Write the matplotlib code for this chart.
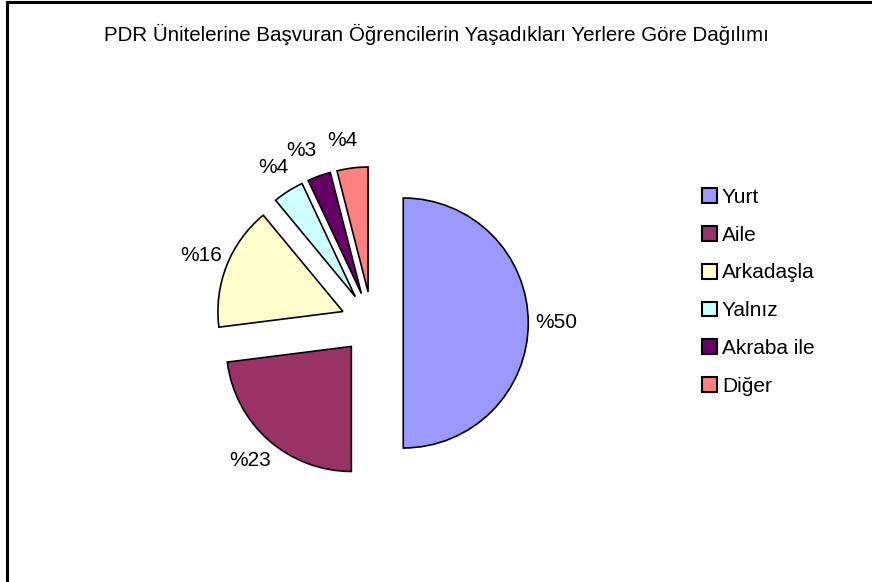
import matplotlib.pyplot as plt
from matplotlib.patches import Patch
from matplotlib.lines import Line2D

plt.rcParams['font.family'] = ['Liberation Sans', 'DejaVu Sans']

labels = ["Yurt", "Aile", "Arkadaşla", "Yalnız", "Akraba ile", "Diğer"]
values = [50, 23, 16, 4, 3, 4]
colors = ["#9999FF", "#993366", "#FFFFCC", "#CCFFFF", "#660066", "#FF8080"]
title = "PDR Ünitelerine Başvuran Öğrencilerin Yaşadıkları Yerlere Göre Dağılımı"

W, H = 872, 582
fig = plt.figure(figsize=(W / 100, H / 100), dpi=100)

# pie centre at about (372, 323) px from top-left, radius ~125 px
ax = fig.add_axes([172 / W, (H - 323 - 200) / H, 400 / W, 400 / H])
wedges, texts = ax.pie(values, colors=colors, startangle=90, counterclock=False,
                       explode=[0.25] * len(values), radius=1.0,
                       labels=["%" + str(v) for v in values], labeldistance=1.22,
                       wedgeprops=dict(edgecolor="black", linewidth=1.2),
                       textprops=dict(fontsize=15))
for t in texts:
    t.set_horizontalalignment("center")
    t.set_verticalalignment("center")
# small labels sit a little further left in the original
for i, dx in [(4, -0.07), (5, -0.05)]:
    x, y = texts[i].get_position()
    texts[i].set_position((x + dx, y))
ax.set_xlim(-1.6, 1.6)
ax.set_ylim(-1.6, 1.6)
ax.set_aspect("equal")
ax.axis("off")

fig.text(436 / W, 1 - 34 / H, title, ha="center", va="center", fontsize=14.8)

handles = [Patch(facecolor=c, edgecolor="black", linewidth=1.5) for c in colors]
fig.legend(handles, labels, loc="upper left", bbox_to_anchor=(702 / W, 1 - 188 / H),
           frameon=False, fontsize=15, handlelength=0.7, handleheight=0.7,
           handletextpad=0.25, labelspacing=0.9, borderaxespad=0, borderpad=0)

# chart border (left and top edges visible)
fig.add_artist(Line2D([7 / W, 7 / W], [0, 1 - 2 / H], color="black", linewidth=2.2,
                      transform=fig.transFigure))
fig.add_artist(Line2D([7 / W, 1], [1 - 2 / H, 1 - 2 / H], color="black", linewidth=2.2,
                      transform=fig.transFigure))

fig.savefig("out.png", dpi=100, facecolor="white")
